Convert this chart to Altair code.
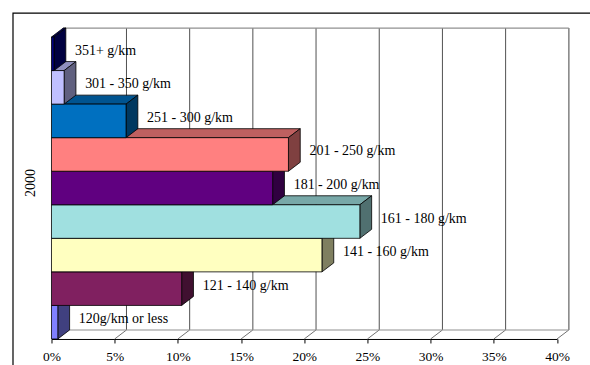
import altair as alt
import pandas as pd

# ---- data ----
categories = ["120g/km or less", "121 - 140 g/km", "141 - 160 g/km", "161 - 180 g/km",
              "181 - 200 g/km", "201 - 250 g/km", "251 - 300 g/km", "301 - 350 g/km",
              "351+ g/km"]
values = [0.5, 10.3, 21.4, 24.4, 17.5, 18.75, 5.9, 1.0, 0.2]
base_colors = ["#8080FF", "#802060", "#FFFFC0", "#A0E0E0", "#600080",
               "#FF8080", "#0070C0", "#C0C0FF", "#000080"]
tick_values = [0, 5, 10, 15, 20, 25, 30, 35, 40]
year_label = ["2000"]

# ---- geometry / style ----
W, H = 505.6, 302.0
XMAX = 40.0
NB = len(categories)
DX = 11.8 / (W / XMAX)     # depth offset in data units (x)
DY = 9.0 / (H / NB)        # depth offset in data units (y)
FONT = "Liberation Serif"


def shade(hexcol, f):
    h = hexcol.lstrip("#")
    r, g, b = (int(h[i:i + 2], 16) for i in (0, 2, 4))
    return "#%02x%02x%02x" % (int(r * f), int(g * f), int(b * f))


front_rows, top_rows, side_rows = [], [], []
for i, (c, v, col) in enumerate(zip(categories, values, base_colors)):
    front_rows.append(dict(cat=c, x=0, x2=v, y=i, y2=i + 1, fill=col, lx=v, ly=i + 0.5))
    top_rows.append(dict(cat=c, y=i + 1, x=0, x2=v, fill=shade(col, 0.75)))
    top_rows.append(dict(cat=c, y=i + 1 + DY, x=DX, x2=v + DX, fill=shade(col, 0.75)))
    side_rows.append(dict(cat=c, x=v, y=i, y2=i + 1, fill=shade(col, 0.5)))
    side_rows.append(dict(cat=c, x=v + DX, y=i + DY, y2=i + 1 + DY, fill=shade(col, 0.5)))

front_df = pd.DataFrame(front_rows)
top_df = pd.DataFrame(top_rows)
side_df = pd.DataFrame(side_rows)
ticks_df = pd.DataFrame(dict(t=tick_values))
ticks_df["tb"] = ticks_df["t"] + DX
ticks_df["y0"] = 0.0
ticks_df["yb"] = DY
ticks_df["ytop"] = NB + DY

xs = alt.Scale(domain=[0, XMAX], nice=False, zero=True)
ys = alt.Scale(domain=[0, NB], nice=False, zero=True)
xaxis = alt.Axis(
    values=tick_values, title=None, grid=False, domainColor="black",
    tickColor="black", tickSize=4, labelFont=FONT, labelFontSize=13.5,
    labelColor="black", labelPadding=7, labelExpr="datum.value + '%'",
    labelFlush=False)


def X(field):
    return alt.X(field, scale=xs, axis=xaxis)


def Y(field):
    return alt.Y(field, scale=ys, axis=None)


# outer chart frame
frame = alt.Chart(pd.DataFrame(dict(label=year_label))).mark_rect(
    fill="transparent", stroke="black", strokeWidth=1.2
).encode(x=alt.value(-38.5), x2=alt.value(620), y=alt.value(-24), y2=alt.value(400))

# back wall vertical gridlines
grid = alt.Chart(ticks_df).mark_rule(color="#505050", strokeWidth=1).encode(
    x=X("tb:Q"), y=Y("yb:Q"), y2="ytop:Q",
)
# floor diagonals
diag = alt.Chart(ticks_df).mark_rule(color="#707070", strokeWidth=1).encode(
    x=X("t:Q"), x2="tb:Q", y=Y("y0:Q"), y2="yb:Q",
)
edge_df = pd.DataFrame([dict(x=DX, x2=XMAX + DX, y=NB + DY, y2=NB + DY),
                        dict(x=DX, x2=XMAX + DX, y=DY, y2=DY),
                        dict(x=XMAX + DX, x2=XMAX + DX, y=DY, y2=NB + DY)])
edges = alt.Chart(edge_df).mark_rule(color="#909090", strokeWidth=1.2).encode(
    x=X("x:Q"), x2="x2:Q", y=Y("y:Q"), y2="y2:Q",
)

top_faces = alt.Chart(top_df).mark_area(orient="horizontal", stroke="black", strokeWidth=0.8).encode(
    y=Y("y:Q"), x=X("x:Q"), x2="x2:Q",
    detail="cat:N",
    fill=alt.Fill("fill:N", scale=None),
)
side_faces = alt.Chart(side_df).mark_area(orient="vertical", stroke="black", strokeWidth=0.8).encode(
    x=X("x:Q"), y=Y("y:Q"), y2="y2:Q",
    detail="cat:N",
    fill=alt.Fill("fill:N", scale=None),
)
front_faces = alt.Chart(front_df).mark_rect(stroke="black", strokeWidth=0.8).encode(
    x=X("x:Q"), x2="x2:Q", y=Y("y:Q"), y2="y2:Q",
    fill=alt.Fill("fill:N", scale=None),
)
labels = alt.Chart(front_df).mark_text(
    align="left", baseline="middle", dx=21, dy=-3, font=FONT, fontSize=14, color="black"
).encode(
    x=X("lx:Q"), y=Y("ly:Q"), text="cat:N",
)
year = alt.Chart(pd.DataFrame(dict(label=year_label))).mark_text(
    angle=270, font=FONT, fontSize=14, color="black", baseline="middle", align="center"
).encode(x=alt.value(-20), y=alt.value(146), text="label:N")

chart = alt.layer(
    frame, grid, diag, edges, top_faces, side_faces, front_faces, labels, year
).properties(
    width=W, height=H,
    autosize=alt.AutoSizeParams(type="none"),
    padding={"left": 51.5, "top": 37, "right": 33, "bottom": 26},
    background="white",
).configure_view(strokeWidth=0)

chart.save("out.html", embed_options={"renderer": "svg", "actions": False})
